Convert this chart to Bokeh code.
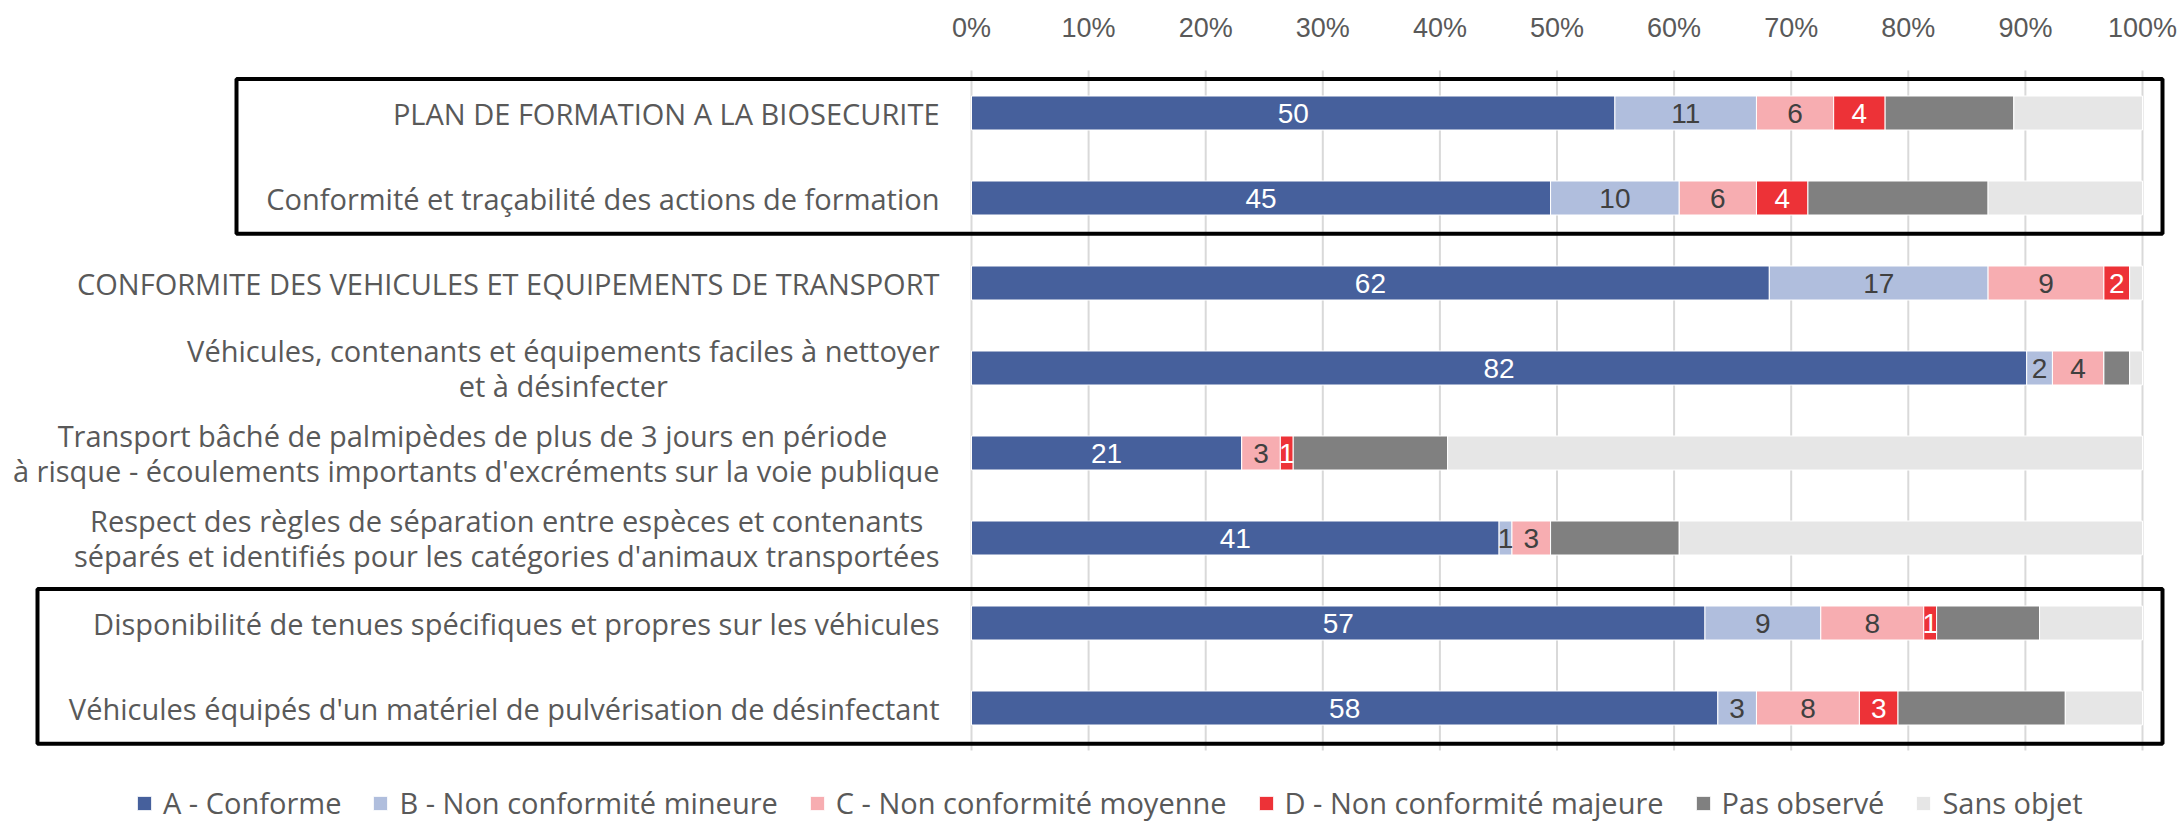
from bokeh.plotting import figure
from bokeh.models import Range1d, FixedTicker, PrintfTickFormatter, ColumnDataSource, Legend, LegendItem
from bokeh.embed import file_html
from bokeh.resources import INLINE
from bokeh.core.properties import value

# ---------------- data ----------------
categories = [
    "PLAN DE FORMATION A LA BIOSECURITE",
    "Conformité et traçabilité des actions de formation",
    "CONFORMITE DES VEHICULES ET EQUIPEMENTS DE TRANSPORT",
    "Véhicules, contenants et équipements faciles à nettoyer\net à désinfecter",
    "Transport  bâché de palmipèdes de plus de 3 jours en période\nà risque - écoulements importants d'excréments sur la voie publique",
    "Respect des règles de séparation entre espèces et contenants\nséparés et identifiés pour les catégories d'animaux transportées",
    "Disponibilité de tenues spécifiques et propres sur les véhicules",
    "Véhicules équipés d'un matériel de pulvérisation de désinfectant",
]
series_names = ["A - Conforme", "B - Non conformité mineure", "C - Non conformité moyenne",
                "D - Non conformité majeure", "Pas observé", "Sans objet"]
conforme = [50, 45, 62, 82, 21, 41, 57, 58]
nc_mineure = [11, 10, 17, 2, 0, 1, 9, 3]
nc_moyenne = [6, 6, 9, 4, 3, 3, 8, 8]
nc_majeure = [4, 4, 2, 0, 1, 0, 1, 3]
pas_observe = [10, 14, 0, 2, 12, 10, 8, 13]
sans_objet = [10, 12, 1, 1, 54, 36, 8, 6]
tick_values = [0, 10, 20, 30, 40, 50, 60, 70, 80, 90, 100]
boxed_groups = [(0, 1), (6, 7)]

series = [conforme, nc_mineure, nc_moyenne, nc_majeure, pas_observe, sans_objet]
colors = ["#46609c", "#b0bedd", "#f7adb1", "#ed3237", "#808080", "#e6e6e6"]
label_colors = ["white", "#404040", "#404040", "white", None, None]

# ---------------- layout (pixels) ----------------
W, H = 2180, 822
X0, X100 = 971, 2142
TOP = 69
ROW0 = 112.5
ROW_STEP = 85.0
px_per = (X100 - X0) / 100.0
x_start = -X0 / px_per
x_end = (W - X0) / px_per
y_top = -(ROW0 - TOP) / ROW_STEP
y_bottom = y_top + (H - TOP) / ROW_STEP

BOX_LEFT_PX = [236, 37]
BOX_RIGHT_PX = 2162
FONT = "Open Sans"
NUM_FONT = "Liberation Sans"
GREY_TXT = "#595959"

p = figure(width=W, height=H, output_backend="svg", toolbar_location=None,
           x_range=Range1d(x_start, x_end), y_range=Range1d(y_bottom, y_top),
           x_axis_location="above", y_axis_location=None,
           min_border_left=0, min_border_right=0, min_border_bottom=0, min_border_top=TOP)
p.outline_line_color = None
p.xgrid.visible = False
p.ygrid.visible = False

ax = p.xaxis[0]
ax.ticker = FixedTicker(ticks=tick_values)
ax.formatter = PrintfTickFormatter(format="%d%%")
ax.axis_line_color = None
ax.major_tick_line_color = None
ax.minor_tick_line_color = None
ax.major_tick_out = 0
ax.major_tick_in = 0
ax.minor_tick_out = 0
ax.major_label_text_font = NUM_FONT
ax.major_label_text_font_size = "27px"
ax.major_label_text_color = GREY_TXT
ax.major_label_standoff = 27

rows = list(range(len(categories)))
n_rows = len(categories)

# gridlines
p.segment(x0=tick_values, x1=tick_values, y0=[-0.5] * len(tick_values),
          y1=[n_rows - 0.5] * len(tick_values), line_color="#d9d9d9", line_width=2)

totals = [sum(s[i] for s in series) for i in rows]
cum = [0.0] * n_rows
legend_items = []
lab_x, lab_y, lab_t, lab_c = [], [], [], []
for k, s in enumerate(series):
    pct = [s[i] / totals[i] * 100 for i in rows]
    left = cum[:]
    right = [left[i] + pct[i] for i in rows]
    src = ColumnDataSource(dict(y=rows, left=left, right=right))
    r = p.hbar(y="y", left="left", right="right", height=0.4, source=src,
               fill_color=colors[k], line_color="white", line_width=1)
    legend_items.append(LegendItem(label=series_names[k], renderers=[r]))
    if label_colors[k] is not None:
        for i in rows:
            if s[i] > 0:
                lab_x.append((left[i] + right[i]) / 2)
                lab_y.append(i)
                lab_t.append(str(s[i]))
                lab_c.append(label_colors[k])
    cum = right

p.text(x=lab_x, y=lab_y, text=lab_t, text_color=lab_c, text_font=value(NUM_FONT),
       text_font_size="28px", text_align="center", text_baseline="middle")

# category labels
p.text(x=[0] * n_rows, y=rows, text=categories, x_offset=-32,
       anchor="center_right", text_align="center", text_baseline="middle",
       text_font=value(FONT), text_font_size="29px", text_color=GREY_TXT,
       text_line_height=0.9)

# group boxes
p.quad(left=[(bl - X0) / px_per for bl in BOX_LEFT_PX],
       right=[(BOX_RIGHT_PX - X0) / px_per] * len(boxed_groups),
       top=[g[0] - 0.4 for g in boxed_groups],
       bottom=[g[1] + 0.42 for g in boxed_groups],
       fill_color=None, line_color="black", line_width=4)

legend = Legend(items=legend_items, orientation="horizontal", location=(135, 0),
                glyph_width=18, glyph_height=18, label_standoff=10, spacing=30,
                label_text_font=FONT, label_text_font_size="29px",
                label_text_color=GREY_TXT, border_line_color=None,
                background_fill_alpha=0, padding=0, margin=0)
p.add_layout(legend, "center")

open("out.html", "w").write(file_html(p, INLINE))
